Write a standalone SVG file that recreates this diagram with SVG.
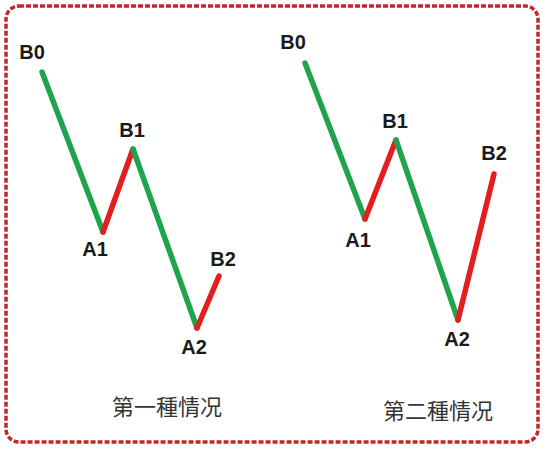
<svg xmlns="http://www.w3.org/2000/svg" width="546" height="449" viewBox="0 0 546 449">
<style>
.frame{fill:#ffffff;stroke:#c1272d;stroke-width:3.5;stroke-dasharray:5 2}
.up{stroke:#e31e1e;stroke-width:5.5;stroke-linecap:round;fill:none}
.down{stroke:#1fa34c;stroke-width:5.5;stroke-linecap:round;fill:none}
.lbl{font-family:"Liberation Sans",Arial,sans-serif;font-weight:bold;font-size:20px;fill:#1a1a1a;text-anchor:middle}
.cap{font-family:"Noto Sans CJK TC","Noto Sans CJK SC",sans-serif;font-size:22px;fill:#333333;text-anchor:middle}
</style>
<rect width="546" height="449" fill="#ffffff"/>
<rect class="frame" x="6" y="6" width="532" height="436" rx="13" ry="13"/>
<g id="connectors">
<line class="down" x1="42" y1="72" x2="103" y2="232"/>
<line class="up" x1="103" y1="232" x2="133" y2="149"/>
<line class="down" x1="133" y1="149" x2="197" y2="328"/>
<line class="up" x1="197" y1="328" x2="219" y2="276"/>
<line class="down" x1="305" y1="63" x2="365" y2="219"/>
<line class="up" x1="365" y1="219" x2="396" y2="140"/>
<line class="down" x1="396" y1="140" x2="458" y2="320"/>
<line class="up" x1="458" y1="320" x2="494" y2="174"/>
</g>
<g id="case1-B0"><text class="lbl" x="32" y="59">B0</text></g>
<g id="case1-A1"><text class="lbl" x="95" y="256">A1</text></g>
<g id="case1-B1"><text class="lbl" x="132" y="137">B1</text></g>
<g id="case1-A2"><text class="lbl" x="194" y="354">A2</text></g>
<g id="case1-B2"><text class="lbl" x="223" y="266">B2</text></g>
<g id="case2-B0"><text class="lbl" x="293" y="49">B0</text></g>
<g id="case2-A1"><text class="lbl" x="358" y="247">A1</text></g>
<g id="case2-B1"><text class="lbl" x="395" y="128">B1</text></g>
<g id="case2-A2"><text class="lbl" x="457" y="346">A2</text></g>
<g id="case2-B2"><text class="lbl" x="494" y="160">B2</text></g>
<g id="caption1"><text class="cap" x="167" y="415">第一種情况</text></g>
<g id="caption2"><text class="cap" x="438" y="419">第二種情况</text></g>
</svg>
